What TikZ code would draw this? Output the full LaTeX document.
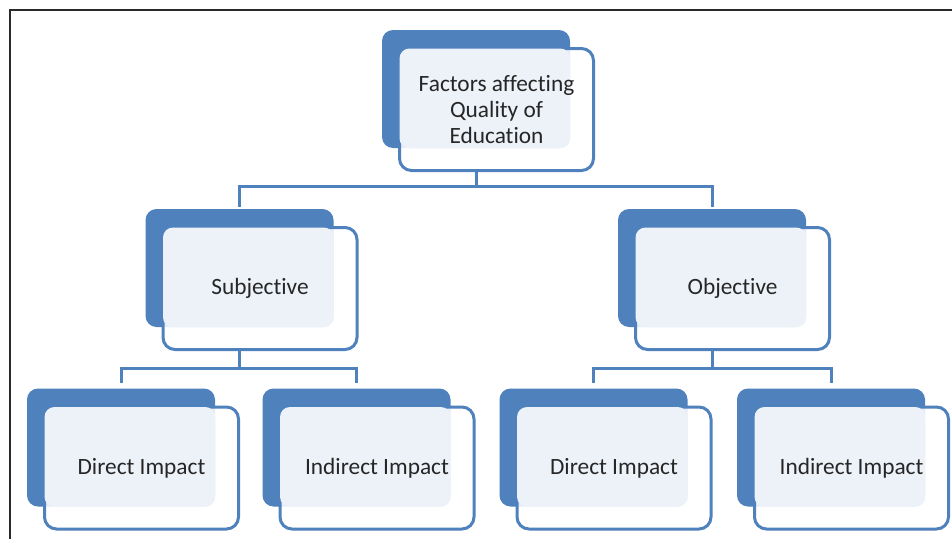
\documentclass[tikz,border=0pt]{standalone}
\usepackage{fontspec}
\setmainfont{Carlito}[Ligatures={NoCommon,NoRare,NoDiscretionary}]
\definecolor{dkblue}{HTML}{4F81BD}
\definecolor{ltfill}{HTML}{EDF2F9}
\definecolor{frame}{HTML}{2A2A2A}
\tikzset{
  backbox/.style={draw=none, fill=dkblue, rounded corners=11pt*0.75, minimum width=188*0.75pt, minimum height=118*0.75pt, inner sep=0pt},
  frontbox/.style={draw=dkblue, line width=3*0.75pt, fill=white, fill opacity=0.85, text opacity=1, rounded corners=12*0.75pt, minimum width=194*0.75pt, minimum height=122*0.75pt, inner sep=0pt},
  overlay/.style={fill=ltfill, rounded corners=10*0.75pt},
  conn/.style={draw=dkblue, line width=3*0.75pt},
  label/.style={align=center, font=\fontsize{17.5}{19.5}\selectfont, text=black!85},
}
\begin{document}
\begin{tikzpicture}[x=0.75pt,y=-0.75pt]
\useasboundingbox (0,0) rectangle (952,539);
\fill[white] (0,0) rectangle (952,539);
% frame
\draw[frame, line width=2.2*0.75pt] (10,539) -- (10,10) -- (952,10);
% back boxes
\node[backbox] (topb) at (476,89) {};
\node[backbox] (subjb) at (239.5,268) {};
\node[backbox] (objb) at (712,268) {};
\node[backbox] (d1b) at (121,447.5) {};
\node[backbox] (i1b) at (356.5,447.5) {};
\node[backbox] (d2b) at (593.5,447.5) {};
\node[backbox] (i2b) at (831,447.5) {};
% connector junctions
\coordinate (j1) at (476,186);
\coordinate (j2) at (239.5,368);
\coordinate (j3) at (712,368);
% front box centers
\path (496.5,109.5) coordinate (topc) (260,288.5) coordinate (subjc) (732.5,288.5) coordinate (objc)
      (141.5,468) coordinate (d1c) (377,468) coordinate (i1c) (614,468) coordinate (d2c) (851.5,468) coordinate (i2c);
% connectors (behind the front boxes)
\draw[conn] (topb.center |- 476,170) -- (j1);
\draw[conn] ([yshift=2*0.75pt]subjb.north) |- (j1) -| ([yshift=2*0.75pt]objb.north);
\draw[conn] (subjb.center |- 0,349) -- (j2);
\draw[conn] ([yshift=5*0.75pt]d1b.north) |- (j2) -| ([yshift=5*0.75pt]i1b.north);
\draw[conn] (objb.center |- 0,349) -- (j3);
\draw[conn] ([yshift=5*0.75pt]d2b.north) |- (j3) -| ([yshift=5*0.75pt]i2b.north);
% front boxes
\node[frontbox] (top) at (topc) {};
\node[frontbox] (subj) at (subjc) {};
\node[frontbox] (obj) at (objc) {};
\node[frontbox] (d1) at (d1c) {};
\node[frontbox] (i1) at (i1c) {};
\node[frontbox] (d2) at (d2c) {};
\node[frontbox] (i2) at (i2c) {};
% light overlap regions
\foreach \f/\b in {top/topb, subj/subjb, obj/objb, d1/d1b, i1/i1b, d2/d2b, i2/i2b}{
  \fill[overlay] ([shift={(1.5,1.5)}]\f.north west) rectangle (\b.south east);
}
% texts
\node[label] (toptxt) at (top) {Factors affecting\\Quality of\\Education};
\node[label] (subjtxt) at (subj) {Subjective};
\node[label] (objtxt) at (obj) {Objective};
\node[label] (d1txt) at (d1) {Direct Impact};
\node[label] (i1txt) at (i1) {Indirect Impact};
\node[label] (d2txt) at (d2) {Direct Impact};
\node[label] (i2txt) at (i2) {Indirect Impact};
\end{tikzpicture}
\end{document}
